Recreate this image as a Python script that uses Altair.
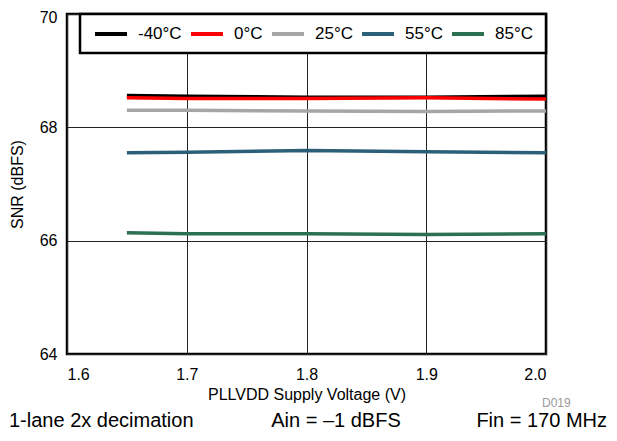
import altair as alt
import pandas as pd

voltage = [1.65, 1.7, 1.8, 1.9, 2.0]
series_names = ["-40°C", "0°C", "25°C", "55°C", "85°C"]
series_colors = ["#000000", "#ff0000", "#a6a6a6", "#2c6079", "#2b7151"]
snr_m40 = [68.56, 68.55, 68.53, 68.53, 68.55]
snr_0 = [68.52, 68.51, 68.51, 68.52, 68.50]
snr_25 = [68.30, 68.30, 68.29, 68.28, 68.29]
snr_55 = [67.55, 67.56, 67.59, 67.57, 67.55]
snr_85 = [66.14, 66.12, 66.12, 66.11, 66.12]
x_ticks = [1.6, 1.7, 1.8, 1.9, 2.0]
y_ticks = [64, 66, 68, 70]
footnotes = ["1-lane 2x decimation", "Ain = \u20131 dBFS", "Fin = 170 MHz"]
figure_id = "D019"

FONT = "Liberation Sans"
W, H = 479, 340

rows = []
for name, vals in zip(series_names, [snr_m40, snr_0, snr_25, snr_55, snr_85]):
    for v, s in zip(voltage, vals):
        rows.append({"v": v, "snr": s, "temp": name})
df = pd.DataFrame(rows)

lines = alt.Chart(df).mark_line(strokeWidth=3.5).encode(
    x=alt.X("v:Q", scale=alt.Scale(domain=[1.6, 2.0], nice=False),
            axis=alt.Axis(values=x_ticks, format=".1f", title="PLLVDD Supply Voltage (V)",
                          labelPadding=12, titlePadding=4)),
    y=alt.Y("snr:Q", scale=alt.Scale(domain=[64, 70], nice=False),
            axis=alt.Axis(values=y_ticks, format="d", title="SNR (dBFS)",
                          labelPadding=10, titlePadding=14,
                          labelOffset=alt.ExprRef("datum.value == 70 ? 3 : 0"))),
    color=alt.Color("temp:N", scale=alt.Scale(domain=series_names, range=series_colors),
                    sort=series_names,
                    legend=alt.Legend(orient="none", legendX=26, legendY=2, direction="horizontal",
                                      title=None, symbolType="stroke", symbolSize=1024,
                                      symbolStrokeWidth=4, labelFontSize=17, labelFont=FONT,
                                      labelOffset=9, columnPadding=1, padding=0,
                                      labelColor="black")),
    order=alt.Order("v:Q"),
)

box = alt.Chart(pd.DataFrame({"a": [0]})).mark_rect(fill="white", stroke="black", strokeWidth=2.5).encode(
    x=alt.value(13), x2=alt.value(W), y=alt.value(0), y2=alt.value(39)
)

foot_left = alt.Chart(pd.DataFrame({"t": [footnotes[0]]})).mark_text(
    align="left", baseline="alphabetic", fontSize=20, font=FONT, color="black"
).encode(text="t:N", x=alt.value(-58), y=alt.value(413))
foot_mid = alt.Chart(pd.DataFrame({"t": [footnotes[1]]})).mark_text(
    align="center", baseline="alphabetic", fontSize=20, font=FONT, color="black"
).encode(text="t:N", x=alt.value(269), y=alt.value(413))
foot_right = alt.Chart(pd.DataFrame({"t": [footnotes[2]]})).mark_text(
    align="right", baseline="alphabetic", fontSize=20, font=FONT, color="black"
).encode(text="t:N", x=alt.value(540), y=alt.value(413))
fig_id = alt.Chart(pd.DataFrame({"t": [figure_id]})).mark_text(
    align="left", baseline="alphabetic", fontSize=12, font=FONT, color="#9a9a9a"
).encode(text="t:N", x=alt.value(475), y=alt.value(393))

chart = alt.layer(box, lines, foot_left, foot_mid, foot_right, fig_id).properties(
    width=W, height=H,
    autosize=alt.AutoSizeParams(type="none"),
    padding={"left": 59, "top": 6, "right": 62, "bottom": 78},
).configure_view(
    stroke="black", strokeWidth=2.5
).configure_axis(
    labelFont=FONT, titleFont=FONT, labelFontSize=16, titleFontSize=16,
    titleFontWeight="normal", labelColor="black", titleColor="black",
    ticks=False, domain=False, grid=True, gridColor="#222222", gridWidth=1, gridOpacity=1,
)

chart.save("out.html", embed_options={"renderer": "svg", "actions": False})
